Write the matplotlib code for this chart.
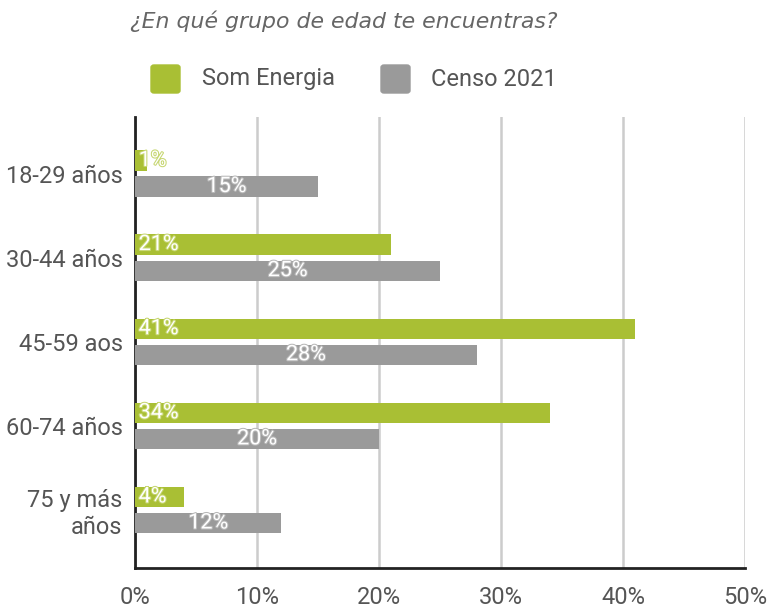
import matplotlib.pyplot as plt
import matplotlib.patheffects as pe
from matplotlib.patches import FancyBboxPatch
import numpy as np

categories = ["18-29 años", "30-44 años", "45-59 aos", "60-74 años", "75 y más\naños"]
som_energia = [1, 21, 41, 34, 4]
censo_2021 = [15, 25, 28, 20, 12]
xticks = [0, 10, 20, 30, 40, 50]

green = "#a9bf34"
gray = "#9a9a9a"

plt.rcParams['font.family'] = ['Roboto', 'DejaVu Sans']

fig = plt.figure(figsize=(7.68, 6.13), dpi=100)
ax = fig.add_axes([0.1758, 0.0734, 0.7945, 0.7355])

y = np.arange(len(categories))
h = 0.24
ax.barh(y - 0.155, som_energia, height=h, color=green, zorder=3)
ax.barh(y + 0.155, censo_2021, height=h, color=gray, zorder=3)

stroke_g = [pe.withStroke(linewidth=1.5, foreground="#c6d670")]
stroke_k = [pe.withStroke(linewidth=1.5, foreground="#b8b8b8")]
for i in range(len(categories)):
    ax.text(0.3, y[i] - 0.155, f"{som_energia[i]}%", color="white", fontsize=15.5,
            va="center", ha="left", zorder=4, path_effects=stroke_g)
    ax.text(censo_2021[i] / 2, y[i] + 0.155, f"{censo_2021[i]}%", color="white", fontsize=15.5,
            va="center", ha="center", zorder=4, path_effects=stroke_k)

ax.set_xlim(0, 50)
ax.set_ylim(4.69, -0.67)
ax.set_xticks(xticks)
ax.set_xticklabels([f"{t}%" for t in xticks], fontsize=17, color="#555555")
ax.set_yticks(y)
ax.set_yticklabels(categories, fontsize=17, color="#555555")
ax.tick_params(length=0)
ax.tick_params(axis="y", pad=9)
ax.tick_params(axis="x", pad=13)
ax.grid(axis="x", color="#cccccc", linewidth=1.8, zorder=0)
for s in ["top", "right"]:
    ax.spines[s].set_visible(False)
ax.spines["left"].set_linewidth(2)
ax.spines["bottom"].set_linewidth(2)
ax.spines["left"].set_color("#222222")
ax.spines["bottom"].set_color("#222222")

fig.text(130 / 768, 1 - 21 / 613, "¿En qué grupo de edad te encuentras?", fontsize=15.8, color="#666666",
         style="italic", family=["DejaVu Sans"], va="center")

# legend
for x0, col in [(151, green), (381, gray)]:
    fig.patches.append(FancyBboxPatch((x0 / 768, 1 - 93 / 613), 29 / 768, 28 / 613,
                                      boxstyle="round,pad=0,rounding_size=0.004",
                                      transform=fig.transFigure, color=col))
fig.text(202 / 768, 1 - 79 / 613, "Som Energia", fontsize=17, color="#555555", va="center")
fig.text(431 / 768, 1 - 79 / 613, "Censo 2021", fontsize=17, color="#555555", va="center")

fig.savefig("out.png", dpi=100)
